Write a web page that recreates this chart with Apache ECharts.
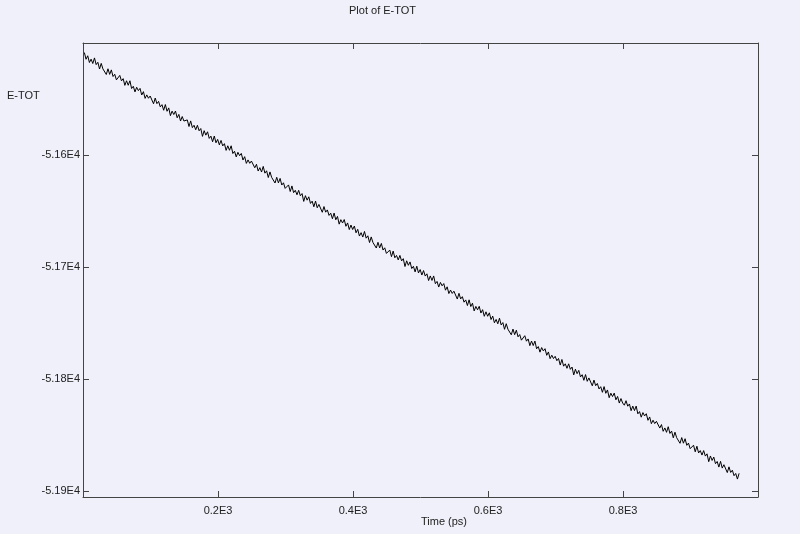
<!DOCTYPE html>
<html>
<head>
<meta charset="utf-8">
<script src="https://cdn.jsdelivr.net/npm/echarts@6/dist/echarts.min.js"></script>
<style>
html,body{margin:0;padding:0;background:#f0f0fa;}
#c{width:800px;height:534px;}
</style>
</head>
<body>
<div id="c"></div>
<script>
const titleText = "Plot of E-TOT";
const yName = "E-TOT";
const xName = "Time (ps)";
const xTicks = [200, 400, 600, 800];
const yTicks = [-51900, -51800, -51700, -51600];
const times = [
2,4.5,7,9.5,12,14.5,17,19.5,22,24.5,27,29.5,32,34.5,37,39.5,42,44.5,47,49.5,
52,54.5,57,59.5,62,64.5,67,69.5,72,74.5,77,79.5,82,84.5,87,89.5,92,94.5,97,99.5,
102,104.5,107,109.5,112,114.5,117,119.5,122,124.5,127,129.5,132,134.5,137,139.5,142,144.5,147,149.5,
152,154.5,157,159.5,162,164.5,167,169.5,172,174.5,177,179.5,182,184.5,187,189.5,192,194.5,197,199.5,
202,204.5,207,209.5,212,214.5,217,219.5,222,224.5,227,229.5,232,234.5,237,239.5,242,244.5,247,249.5,
252,254.5,257,259.5,262,264.5,267,269.5,272,274.5,277,279.5,282,284.5,287,289.5,292,294.5,297,299.5,
302,304.5,307,309.5,312,314.5,317,319.5,322,324.5,327,329.5,332,334.5,337,339.5,342,344.5,347,349.5,
352,354.5,357,359.5,362,364.5,367,369.5,372,374.5,377,379.5,382,384.5,387,389.5,392,394.5,397,399.5,
402,404.5,407,409.5,412,414.5,417,419.5,422,424.5,427,429.5,432,434.5,437,439.5,442,444.5,447,449.5,
452,454.5,457,459.5,462,464.5,467,469.5,472,474.5,477,479.5,482,484.5,487,489.5,492,494.5,497,499.5,
502,504.5,507,509.5,512,514.5,517,519.5,522,524.5,527,529.5,532,534.5,537,539.5,542,544.5,547,549.5,
552,554.5,557,559.5,562,564.5,567,569.5,572,574.5,577,579.5,582,584.5,587,589.5,592,594.5,597,599.5,
602,604.5,607,609.5,612,614.5,617,619.5,622,624.5,627,629.5,632,634.5,637,639.5,642,644.5,647,649.5,
652,654.5,657,659.5,662,664.5,667,669.5,672,674.5,677,679.5,682,684.5,687,689.5,692,694.5,697,699.5,
702,704.5,707,709.5,712,714.5,717,719.5,722,724.5,727,729.5,732,734.5,737,739.5,742,744.5,747,749.5,
752,754.5,757,759.5,762,764.5,767,769.5,772,774.5,777,779.5,782,784.5,787,789.5,792,794.5,797,799.5,
802,804.5,807,809.5,812,814.5,817,819.5,822,824.5,827,829.5,832,834.5,837,839.5,842,844.5,847,849.5,
852,854.5,857,859.5,862,864.5,867,869.5,872,874.5,877,879.5,882,884.5,887,889.5,892,894.5,897,899.5,
902,904.5,907,909.5,912,914.5,917,919.5,922,924.5,927,929.5,932,934.5,937,939.5,942,944.5,947,949.5,
952,954.5,957,959.5,962,964.5,967,969.5,972
];
const etot = [
-51508.5,-51514.5,-51511.4,-51517.4,-51514.4,-51518.3,-51513.3,-51519.3,-51517.2,-51523.2,-51518.2,-51523.1,-51522.1,-51528.1,-51523.0,-51528.0,-51524.0,-51529.9,-51527.9,-51532.9,
-51532.9,-51528.9,-51533.8,-51531.8,-51537.8,-51533.7,-51537.7,-51533.7,-51540.6,-51538.6,-51543.6,-51539.5,-51542.5,-51540.5,-51546.4,-51543.4,-51549.4,-51546.3,-51549.3,-51547.3,
-51548.2,-51554.2,-51549.1,-51554.1,-51552.1,-51557.0,-51555.0,-51560.0,-51554.9,-51560.9,-51557.9,-51564.8,-51560.8,-51563.8,-51560.7,-51566.7,-51563.7,-51569.6,-51565.6,-51569.6,
-51570.6,-51568.6,-51574.5,-51569.5,-51575.5,-51573.4,-51577.4,-51573.4,-51578.3,-51576.3,-51583.3,-51578.2,-51582.2,-51579.2,-51585.1,-51583.1,-51588.1,-51583.0,-51589.0,-51586.0,
-51590.9,-51586.9,-51591.8,-51589.8,-51595.8,-51591.7,-51595.7,-51591.7,-51598.6,-51596.6,-51601.6,-51597.5,-51600.5,-51598.5,-51604.4,-51601.4,-51607.4,-51604.3,-51607.3,-51605.3,
-51605.3,-51611.3,-51608.2,-51614.2,-51611.2,-51615.1,-51610.1,-51616.1,-51614.0,-51620.0,-51615.0,-51619.9,-51618.9,-51624.9,-51619.8,-51624.8,-51620.8,-51626.7,-51624.7,-51629.7,
-51628.6,-51626.6,-51632.5,-51627.5,-51633.5,-51631.4,-51635.4,-51631.4,-51636.3,-51634.3,-51641.3,-51636.2,-51640.2,-51637.2,-51643.1,-51641.1,-51646.1,-51641.0,-51647.0,-51644.0,
-51645.0,-51651.0,-51645.9,-51650.9,-51648.9,-51653.8,-51651.8,-51656.8,-51651.7,-51657.7,-51654.7,-51661.6,-51657.6,-51660.6,-51657.5,-51663.5,-51660.5,-51666.4,-51662.4,-51666.4,
-51663.3,-51669.3,-51666.2,-51672.2,-51669.2,-51673.1,-51668.1,-51674.1,-51672.0,-51678.0,-51673.0,-51677.9,-51676.9,-51682.9,-51677.8,-51682.8,-51678.8,-51684.7,-51682.7,-51687.7,
-51686.7,-51684.7,-51690.6,-51685.6,-51691.6,-51689.5,-51693.5,-51689.5,-51694.4,-51692.4,-51699.4,-51694.3,-51698.3,-51695.3,-51701.2,-51699.2,-51704.2,-51699.1,-51705.1,-51702.1,
-51707.0,-51703.0,-51707.9,-51705.9,-51711.9,-51707.8,-51711.8,-51707.8,-51714.7,-51712.7,-51717.7,-51713.6,-51716.6,-51714.6,-51720.5,-51717.5,-51723.5,-51720.4,-51723.4,-51721.4,
-51722.4,-51728.4,-51723.3,-51728.3,-51726.3,-51731.2,-51729.2,-51734.2,-51729.1,-51735.1,-51732.1,-51739.0,-51735.0,-51738.0,-51734.9,-51740.9,-51737.9,-51743.8,-51739.8,-51743.8,
-51740.7,-51746.7,-51743.6,-51749.6,-51746.6,-51750.5,-51745.5,-51751.5,-51749.4,-51755.4,-51750.4,-51755.3,-51754.3,-51760.3,-51755.2,-51760.2,-51756.2,-51762.1,-51760.1,-51765.1,
-51765.1,-51761.1,-51766.0,-51764.0,-51770.0,-51765.9,-51769.9,-51765.9,-51772.8,-51770.8,-51775.8,-51771.7,-51774.7,-51772.7,-51778.6,-51775.6,-51781.6,-51778.5,-51781.5,-51779.5,
-51783.4,-51781.4,-51787.3,-51782.3,-51788.3,-51786.2,-51790.2,-51786.2,-51791.1,-51789.1,-51796.1,-51791.0,-51795.0,-51792.0,-51797.9,-51795.9,-51800.9,-51795.8,-51801.8,-51798.8,
-51799.8,-51805.8,-51800.7,-51805.7,-51803.7,-51808.6,-51806.6,-51811.6,-51806.5,-51812.5,-51809.5,-51816.4,-51812.4,-51815.4,-51812.3,-51818.3,-51815.3,-51821.2,-51817.2,-51821.2,
-51823.1,-51819.1,-51824.0,-51822.0,-51828.0,-51823.9,-51827.9,-51823.9,-51830.8,-51828.8,-51833.8,-51829.7,-51832.7,-51830.7,-51836.6,-51833.6,-51839.6,-51836.5,-51839.5,-51837.5,
-51837.5,-51843.5,-51840.4,-51846.4,-51843.4,-51847.3,-51842.3,-51848.3,-51846.2,-51852.2,-51847.2,-51852.1,-51851.1,-51857.1,-51852.0,-51857.0,-51853.0,-51858.9,-51856.9,-51861.9,
-51860.8,-51858.8,-51864.7,-51859.7,-51865.7,-51863.6,-51867.6,-51863.6,-51868.5,-51866.5,-51873.5,-51868.4,-51872.4,-51869.4,-51875.3,-51873.3,-51878.3,-51873.2,-51879.2,-51876.2,
-51877.2,-51883.2,-51878.1,-51883.1,-51881.1,-51886.0,-51884.0,-51889.0,-51883.9
];

const FONT = '"Liberation Sans", Arial, sans-serif';
const TXT = '#222';
const AX = '#444';
const chart = echarts.init(document.getElementById('c'), null, {renderer: 'canvas'});
const pts = times.map((t, i) => [t, etot[i]]);

const xBase = {
  type: 'value', min: 0, max: 1000,
  splitLine: {show: false},
  axisLine: {show: true, onZero: false, lineStyle: {color: AX, width: 1}},
  axisTick: {show: true, inside: true, length: 6, customValues: xTicks, lineStyle: {color: AX}},
  axisLabel: {show: true, customValues: xTicks, margin: 8, color: TXT, fontFamily: FONT, fontSize: 11,
    formatter: v => (v / 1000).toFixed(1) + 'E3'}
};
const yBase = {
  type: 'value', min: -51905, max: -51500,
  splitLine: {show: false},
  axisLine: {show: true, onZero: false, lineStyle: {color: AX, width: 1}},
  axisTick: {show: true, inside: true, length: 6, customValues: yTicks, lineStyle: {color: AX}},
  axisLabel: {show: true, customValues: yTicks, margin: 3, color: TXT, fontFamily: FONT, fontSize: 11,
    formatter: v => (v / 10000).toFixed(2) + 'E4'}
};

chart.setOption({
  animation: false,
  backgroundColor: '#f0f0fa',
  grid: {left: 83, right: 42, top: 43, bottom: 37, outerBoundsMode: 'none', containLabel: false},
  xAxis: [
    Object.assign({}, xBase, {position: 'bottom'}),
    Object.assign({}, xBase, {position: 'top', axisLabel: {show: false}})
  ],
  yAxis: [
    Object.assign({}, yBase, {position: 'left'}),
    Object.assign({}, yBase, {position: 'right', axisLabel: {show: false}})
  ],
  graphic: [
    {type: 'text', left: 349, top: 5, style: {text: titleText, fill: TXT, font: '11px ' + FONT}},
    {type: 'text', left: 7, top: 90, style: {text: yName, fill: TXT, font: '11px ' + FONT}},
    {type: 'text', left: 421, top: 516, style: {text: xName, fill: TXT, font: '11px ' + FONT}}
  ],
  series: [{
    type: 'line', data: pts, xAxisIndex: 0, yAxisIndex: 0,
    showSymbol: false, symbol: 'none',
    lineStyle: {color: '#000', width: 1},
    silent: true
  }]
});
</script>
</body>
</html>
